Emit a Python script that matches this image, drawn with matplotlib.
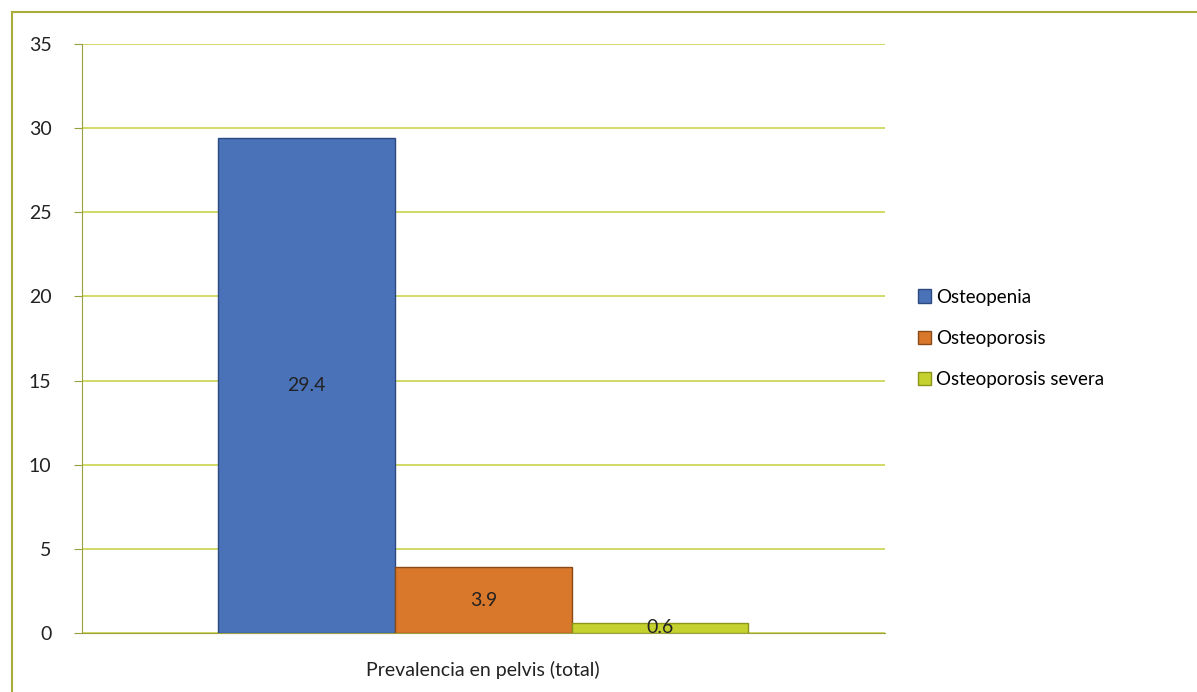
import matplotlib.pyplot as plt
from matplotlib.patches import Rectangle

# data
group = "Prevalencia en pelvis (total)"
series = ["Osteopenia", "Osteoporosis", "Osteoporosis severa"]
values = [29.4, 3.9, 0.6]
colors = ["#4a72b8", "#d9772a", "#c5d12e"]
edges = ["#2c4a80", "#8a4a18", "#8a9418"]

plt.rcParams['font.family'] = ['Lato', 'DejaVu Sans']

fig = plt.figure(figsize=(11.97, 6.92), dpi=100)
ax = fig.add_axes([0.0685, 0.0853, 0.6705, 0.8511])

# outer chart frame
fig.patches.append(Rectangle((0.010, -0.05), 1.2, 1.033, transform=fig.transFigure,
                             fill=False, edgecolor="#a8ad3a", linewidth=1.5))

w = 1.0
for i, (s, v) in enumerate(zip(series, values)):
    x = (i - 1) * w
    ax.bar(x, v, width=w, color=colors[i], edgecolor=edges[i], linewidth=1.0,
           label=s, zorder=3)
    ax.text(x, v / 2, "%.1f" % v, ha='center', va='center', fontsize=14,
            color="#222222", zorder=4)

ax.set_xlim(-2.27, 2.27)
ax.set_ylim(0, 35)
ax.set_yticks(range(0, 36, 5))
ax.yaxis.grid(True, color="#c9d44c", linewidth=1.2, zorder=0)
ax.set_xticks([])
ax.set_xlabel(group, fontsize=14, labelpad=20, color="#222222")

for sp in ['top', 'right']:
    ax.spines[sp].set_visible(False)
ax.spines['left'].set_color("#9aa040")
ax.spines['bottom'].set_color("#9aa040")
ax.tick_params(axis='y', length=6, color="#9aa040", labelsize=14,
               labelcolor="#222222", pad=16)

ax.legend(loc='center left', bbox_to_anchor=(1.02, 0.5), frameon=False,
          fontsize=13.5, handlelength=0.7, handleheight=0.7, handletextpad=0.3,
          labelspacing=1.3)

fig.savefig("out.png", dpi=100)
